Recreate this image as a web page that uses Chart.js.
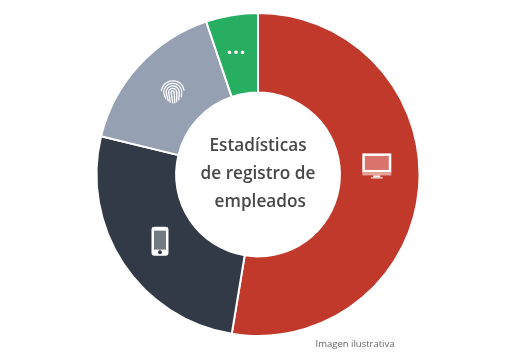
<!DOCTYPE html>
<html>
<head>
<meta charset="utf-8">
<style>
  html, body { margin: 0; padding: 0; background: #fff; }
  #wrap { width: 515px; height: 363px; }
</style>
<script src="https://cdn.jsdelivr.net/npm/chart.js@4"></script>
</head>
<body>
<div id="wrap"><canvas id="registros" width="515" height="363"></canvas></div>
<script>
// values (percent of registrations per device)
const categories = ["Ordenador", "Móvil", "Huella", "Otros"];
const shares = [52.6, 26.2, 16.0, 5.2];
const sliceColors = ["#c0392b", "#323a47", "#95a0b2", "#27ae60"];
const centerLines = ["Estadísticas", "de registro de", " empleados"];
const sourceNote = "Imagen ilustrativa";

// the icons don't sit exactly on the slice centre in the original
const iconNudge = [[-2.5, -19], [3.5, -0.5], [4.5, -0.5], [-2.2, -2]];

// small white icons, drawn around 0,0
const icons = [
  function monitor(ctx) {
    ctx.fillStyle = "#fff";
    ctx.fillRect(-14.5, -12, 29, 19);
    ctx.fillStyle = "#d9736b";
    ctx.fillRect(-12, -9.5, 24, 14);
    ctx.fillStyle = "#e8a59f";
    ctx.fillRect(-14.5, 7, 29, 3);
    ctx.fillStyle = "#fff";
    ctx.fillRect(-3.5, 10, 7, 2);
    ctx.fillRect(-6, 12, 12, 1);
  },
  function phone(ctx) {
    ctx.fillStyle = "#fff";
    ctx.beginPath();
    ctx.roundRect(-8.5, -14.5, 17, 29, 3);
    ctx.fill();
    ctx.fillStyle = "#737a84";
    ctx.fillRect(-6, -10.5, 12, 19);
    ctx.fillStyle = "#323a47";
    ctx.beginPath();
    ctx.arc(0, 11, 2, 0, Math.PI * 2);
    ctx.fill();
  },
  function fingerprint(ctx) {
    ctx.strokeStyle = "#fff";
    ctx.lineWidth = 1.3;
    ctx.lineCap = "round";
    [[11.5, 3.3, 6.1], [9, 3.2, 6.2], [6.5, 3.1, 6.3], [4, 3.1, 6.4], [1.5, 3.1, 6.4]].forEach(function (r) {
      ctx.beginPath();
      ctx.arc(0, 0.5, r[0], r[1], r[2]);
      ctx.stroke();
    });
    [[-9, 1, -7, 7], [-6.5, 1, -4.5, 9], [-4, 1, -2.5, 10.5], [-1.5, 1, 0, 11], [1.5, 1, 2, 11], [4, 1, 4, 10], [6.5, 1, 6, 8], [9, 1, 8.5, 5]].forEach(function (l) {
      ctx.beginPath();
      ctx.moveTo(l[0], l[1]);
      ctx.lineTo(l[2], l[3]);
      ctx.stroke();
    });
  },
  function dots(ctx) {
    ctx.fillStyle = "#fff";
    [-6.5, 0, 6.5].forEach(function (x) {
      ctx.beginPath();
      ctx.arc(x, 0, 1.8, 0, Math.PI * 2);
      ctx.fill();
    });
  }
];

const sliceIcons = {
  id: "sliceIcons",
  afterDatasetsDraw(chart) {
    const ctx = chart.ctx;
    chart.getDatasetMeta(0).data.forEach(function (arc, i) {
      const p = arc.getCenterPoint();
      ctx.save();
      ctx.translate(p.x + iconNudge[i][0], p.y + iconNudge[i][1]);
      icons[i](ctx);
      ctx.restore();
    });
  }
};

const extraText = {
  id: "extraText",
  afterDraw(chart) {
    const ctx = chart.ctx;
    const arc = chart.getDatasetMeta(0).data[0];
    ctx.save();
    ctx.textAlign = "center";
    ctx.textBaseline = "middle";
    ctx.fillStyle = "#484848";
    ctx.font = "600 17.2px 'Open Sans'";
    centerLines.forEach(function (line, i) {
      ctx.fillText(line, arc.x, arc.y - 28 + i * 27.6);
    });
    ctx.fillStyle = "#666";
    ctx.font = "9.5px 'Open Sans'";
    ctx.fillText(sourceNote, 355, 344.5);
    ctx.restore();
  }
};

new Chart(document.getElementById("registros"), {
  type: "doughnut",
  data: {
    labels: categories,
    datasets: [{
      data: shares,
      backgroundColor: sliceColors,
      borderColor: "#fff",
      borderWidth: 2
    }]
  },
  options: {
    responsive: false,
    animation: false,
    radius: 161.5,
    cutout: 88,
    layout: { padding: { left: 1, bottom: 14 } },
    plugins: { legend: { display: false }, tooltip: { enabled: false } }
  },
  plugins: [sliceIcons, extraText]
});
</script>
</body>
</html>
